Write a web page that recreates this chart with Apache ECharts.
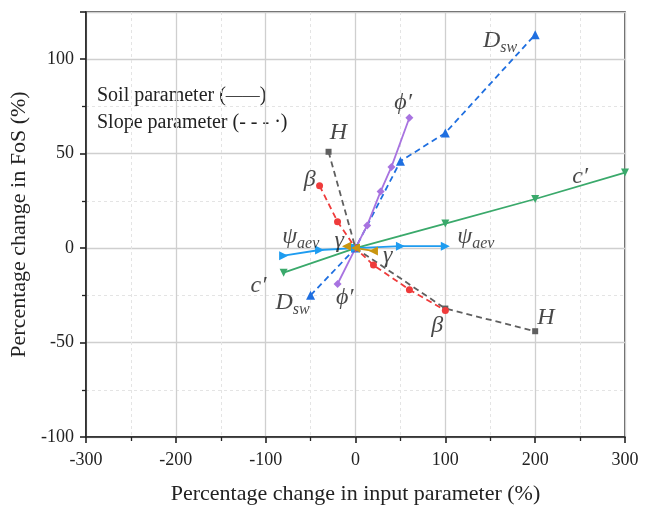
<!DOCTYPE html>
<html><head><meta charset="utf-8">
<script src="https://cdn.jsdelivr.net/npm/echarts@6/dist/echarts.min.js"></script>
<style>html,body{margin:0;padding:0;background:#fff}#c{width:650px;height:510px}</style>
</head><body><div id="c"></div>
<script>
// ---- data ----
const dswX = [-50, 0, 50, 100, 200];
const dswY = [-25, 0, 46, 61, 113];
const phiX = [-20, 0, 13, 28, 40, 60];
const phiY = [-19, 0, 12, 30, 43, 69];
const cX = [-80, 0, 100, 200, 300];
const cY = [-13, 0, 13, 26, 40];
const psiX = [-80, -40, 0, 50, 100];
const psiY = [-4, -1, 0, 1, 1];
const betaX = [-40, -20, 0, 20, 60, 100];
const betaY = [33, 14, 0, -9, -22, -33];
const hX = [-30, 0, 100, 200];
const hY = [51, 0, -32, -44];
const gamX = [-10, 0, 20];
const gamY = [1, 0, -1.5];
// label anchors (data coords) and texts
const labelText = ['D', 'phi', 'c', 'H', 'beta', 'psi', 'gamma', 'psi', 'gamma', 'c', 'D', 'phi', 'beta', 'H'];
const labelX = [161, 53, 250, -19, -51, -61, -18, 134, 36, -108, -70, -12, 91, 212];
const labelY = [110, 77, 38, 61, 36, 6, 4, 6, -4, -20, -29, -26, -41, -37];

const xTicks = [-300, -200, -100, 0, 100, 200, 300];
const yTicks = [-100, -50, 0, 50, 100];

function pts(xs, ys) { return xs.map((x, i) => [x, ys[i]]); }
const serif = 'Liberation Serif';

function lineSeries(name, xs, ys, color, dashed, symbol, rot, size) {
  return {
    name, type: 'line', data: pts(xs, ys), symbol, symbolSize: size || 7,
    symbolRotate: rot || 0,
    lineStyle: { color, width: 1.8, type: dashed ? [6, 4] : 'solid' },
    itemStyle: { color }, z: 3, animation: false
  };
}

const rich = {
  m: { fontFamily: serif, fontStyle: 'italic', fontSize: 24, color: '#1a1a1a' },
  s: { fontFamily: serif, fontStyle: 'italic', fontSize: 16, color: '#1a1a1a', padding: [14, 0, 0, 0] }
};
function fmt(key) {
  switch (key) {
    case 'D': return '{m|D}{s|sw}';
    case 'phi': return '{m|ϕ′}';
    case 'c': return '{m|c′}';
    case 'H': return '{m|H}';
    case 'beta': return '{m|β}';
    case 'psi': return '{m|ψ}{s|aev}';
    case 'gamma': return '{m|γ}';
  }
  return key;
}

const axisCommon = {
  axisLine: { show: true, onZero: false, lineStyle: { color: '#222', width: 1.6 } },
  axisTick: { show: true, length: 6, lineStyle: { color: '#222', width: 1.6 } },
  minorTick: { show: true, splitNumber: 2, length: 4, lineStyle: { color: '#222', width: 1.3 } },
  splitLine: { show: true, lineStyle: { color: '#cfcfcf', width: 1.3 } },
  minorSplitLine: { show: true, lineStyle: { color: '#e4e4e4', type: [3, 3], width: 1 } },
  nameTextStyle: { fontFamily: serif, fontSize: 22, color: '#222' }
};

const chart = echarts.init(document.getElementById('c'), null, { renderer: 'canvas' });
chart.setOption({
  animation: false,
  backgroundColor: '#fff',
  grid: { left: 86, right: 25, top: 12, bottom: 67, show: true, borderColor: '#222', borderWidth: 1.4, backgroundColor: 'transparent' },
  xAxis: Object.assign({}, axisCommon, {
    type: 'value', min: -300, max: 300, interval: 100,
    name: 'Percentage change in input parameter (%)', nameLocation: 'middle', nameGap: 46,
    axisLabel: { fontFamily: serif, fontSize: 18, color: '#222', margin: 14,
      formatter: v => xTicks.includes(v) ? String(v) : '' }
  }),
  yAxis: Object.assign({}, axisCommon, {
    type: 'value', min: -100, max: 125, interval: 50,
    name: 'Percentage change in FoS (%)', nameLocation: 'middle', nameGap: 49,
    axisLabel: { fontFamily: serif, fontSize: 18, color: '#222', margin: 12, showMaxLabel: false,
      formatter: v => yTicks.includes(v) ? String(v) : '' }
  }),
  series: [
    lineSeries('H', hX, hY, '#5f5f5f', true, 'rect', 0, 6),
    lineSeries('c', cX, cY, '#3aa96b', false, 'triangle', 180, 8),
    lineSeries('Dsw', dswX, dswY, '#1f6fe0', true, 'triangle', 0, 9),
    lineSeries('phi', phiX, phiY, '#a873e0', false, 'diamond', 0, 8),
    lineSeries('beta', betaX, betaY, '#ef3b3b', true, 'circle', 0, 7),
    lineSeries('psi', psiX, psiY, '#1e9cf0', false, 'triangle', -90, 9),
    lineSeries('gamma', gamX, gamY, '#c9950f', false, 'triangle', 90, 9),
    {
      name: 'labels', type: 'scatter', symbolSize: 0, z: 5, silent: true,
      data: labelX.map((x, i) => ({ value: [x, labelY[i]], key: labelText[i] })),
      label: { show: true, position: 'inside', formatter: p => fmt(p.data.key), rich }
    }
  ],
  graphic: [
    { type: 'text', left: 97, top: 86, style: { text: 'Soil parameter ({d|——})', font: '20px "Liberation Serif"', fill: '#222',
      rich: { d: { fontFamily: serif, fontSize: 17, fill: '#222' } } } },
    { type: 'text', left: 97, top: 113, style: { text: 'Slope parameter (- - - ·)', font: '20px "Liberation Serif"', fill: '#222' } }
  ]
});
</script></body></html>
